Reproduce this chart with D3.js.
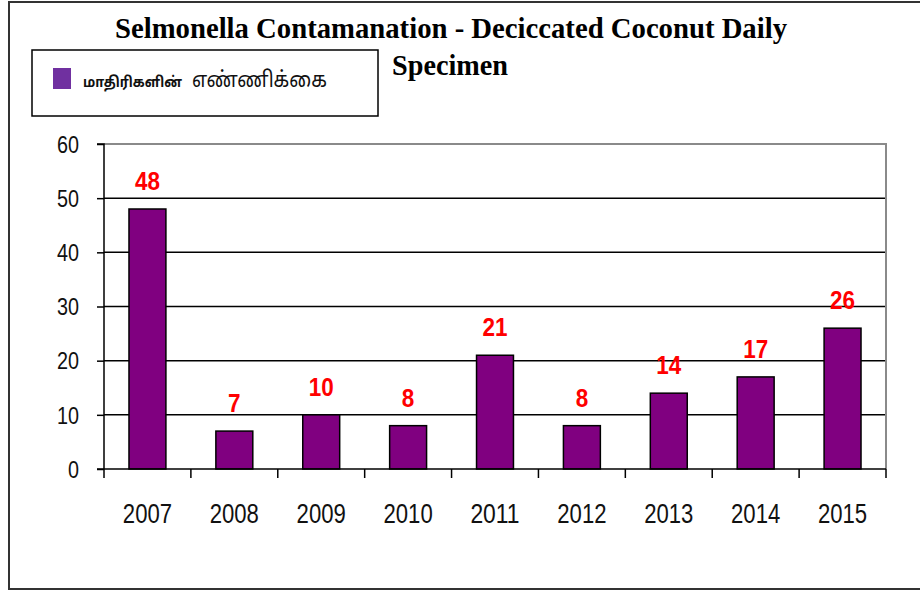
<!DOCTYPE html>
<html><head><meta charset="utf-8">
<script src="https://cdn.jsdelivr.net/npm/d3@7/dist/d3.min.js"></script>
<style>body{margin:0;background:#fff}svg{display:block}</style>
</head><body>
<script>
const categories = ["2007","2008","2009","2010","2011","2012","2013","2014","2015"];
const values = [48,7,10,8,21,8,14,17,26];
const yTicks = [0,10,20,30,40,50,60];
const titleLines = ["Selmonella Contamanation - Deciccated Coconut Daily","Specimen"];
const legendWords = ["மாதிரிகளின்","எண்ணிக்கை"];

const W=920,H=594;
const svg=d3.select("body").append("svg").attr("width",W).attr("height",H);
svg.append("rect").attr("x",9).attr("y",2).attr("width",930).attr("height",587)
  .attr("fill","#fff").attr("stroke","#333").attr("stroke-width",2);

const L=104,R=886,T=144,B=469;
const x=d3.scaleBand().domain(categories).range([L,R]).padding(0);
const y=d3.scaleLinear().domain([0,60]).range([B,T]);
const narrow="'Liberation Sans Narrow','Arial Narrow','Liberation Sans',Arial,sans-serif";

// gridlines
svg.append("g").selectAll("line").data(yTicks.filter(t=>t>0&&t<60)).join("line")
  .attr("x1",L).attr("x2",R).attr("y1",d=>y(d)).attr("y2",d=>y(d))
  .attr("stroke","#000").attr("stroke-width",1.5);
// plot border top & right
svg.append("path").attr("d",`M${L},${y(60)}H${R}V${B}`).attr("fill","none")
  .attr("stroke","#8a8a8a").attr("stroke-width",2);

// bars
const bw=x.bandwidth()*0.425;
svg.append("g").selectAll("rect").data(values).join("rect")
  .attr("x",(d,i)=>x(categories[i])+x.bandwidth()/2-bw/2)
  .attr("y",d=>y(d)).attr("width",bw).attr("height",d=>B-y(d))
  .attr("fill","#800080").attr("stroke","#000").attr("stroke-width",1.5);

// y axis
const yAxis=d3.axisLeft(y).tickValues(yTicks).tickSize(7).tickPadding(18);
const gy=svg.append("g").attr("transform",`translate(${L},0)`).call(yAxis);
gy.select(".domain").attr("stroke","#000").attr("stroke-width",1.5).attr("d",`M-7,${T}H0V${B}`);
gy.selectAll(".tick line").attr("stroke","#000").attr("stroke-width",1.5);
gy.selectAll(".tick text").attr("font-family",narrow)
  .attr("font-size",23).attr("fill","#111").attr("dy","0.36em")
  .attr("textLength",d=>String(d).length*11).attr("lengthAdjust","spacingAndGlyphs");

// x axis
const gx=svg.append("g").attr("transform",`translate(0,${B})`);
gx.append("line").attr("x1",L-7).attr("x2",R).attr("stroke","#000").attr("stroke-width",1.5);
const bounds=categories.map(c=>x(c)).concat([R]);
gx.selectAll("line.tk").data(bounds).join("line").attr("class","tk")
  .attr("x1",d=>d).attr("x2",d=>d).attr("y1",0).attr("y2",9).attr("stroke","#000").attr("stroke-width",1.5);
gx.selectAll("text").data(categories).join("text")
  .attr("x",d=>x(d)+x.bandwidth()/2).attr("y",54).attr("text-anchor","middle")
  .attr("font-family",narrow).attr("font-size",27).attr("fill","#111")
  .attr("textLength",d=>d.length*12.3).attr("lengthAdjust","spacingAndGlyphs")
  .text(d=>d);

// data labels
svg.append("g").selectAll("text").data(values).join("text")
  .attr("x",(d,i)=>x(categories[i])+x.bandwidth()/2).attr("y",d=>y(d)-19)
  .attr("text-anchor","middle").attr("font-family",narrow)
  .attr("font-weight","bold").attr("font-size",25).attr("fill","#ff0000")
  .attr("textLength",d=>String(d).length*12.5).attr("lengthAdjust","spacingAndGlyphs")
  .text(d=>d);

// title
svg.append("text").attr("x",451).attr("y",38).attr("text-anchor","middle")
  .attr("font-family","'Liberation Serif','Times New Roman',serif").attr("font-weight","bold").attr("font-size",30)
  .attr("textLength",672).attr("lengthAdjust","spacingAndGlyphs").attr("fill","#000").text(titleLines[0]);
svg.append("text").attr("x",450).attr("y",75).attr("text-anchor","middle")
  .attr("font-family","'Liberation Serif','Times New Roman',serif").attr("font-weight","bold").attr("font-size",30)
  .attr("textLength",116).attr("lengthAdjust","spacingAndGlyphs").attr("fill","#000").text(titleLines[1]);

// legend
svg.append("rect").attr("x",32).attr("y",50).attr("width",346).attr("height",66)
  .attr("fill","#fff").attr("stroke","#000").attr("stroke-width",1.5);
svg.append("rect").attr("x",53).attr("y",68).attr("width",18).attr("height",21).attr("fill","#7030a0");
const lt=svg.append("text").attr("y",87).attr("fill","#111").attr("font-family","'Noto Sans Tamil','Lohit Tamil','Latha',sans-serif");
lt.append("tspan").attr("x",83).attr("font-size",15).attr("font-weight","bold").attr("textLength",99).attr("lengthAdjust","spacingAndGlyphs").text(legendWords[0]);
lt.append("tspan").attr("x",192).attr("font-size",22).attr("textLength",135).attr("lengthAdjust","spacingAndGlyphs").text(legendWords[1]);
</script>
</body></html>
